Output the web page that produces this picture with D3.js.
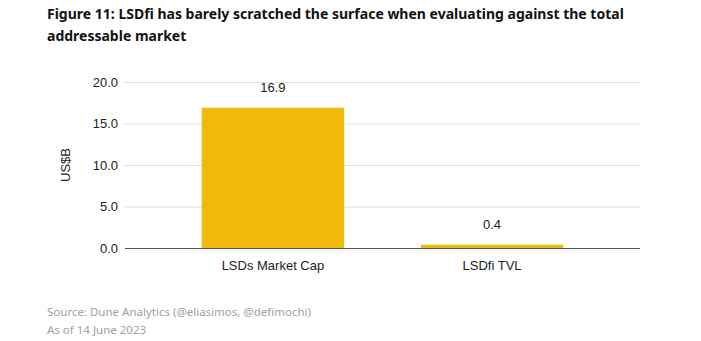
<!DOCTYPE html>
<html>
<head>
<meta charset="utf-8">
<script src="https://cdn.jsdelivr.net/npm/d3@7"></script>
<style>
  body { margin: 0; background: #fff; }
  svg text { font-family: "Liberation Sans", Arial, sans-serif; }
</style>
</head>
<body>
<div id="chart"></div>
<script>
var categories = ["LSDs Market Cap", "LSDfi TVL"];
var values = [16.9, 0.4];
var valueLabels = ["16.9", "0.4"];
var yTicks = [0, 5, 10, 15, 20];

var W = 701, H = 341;
var svg = d3.select("#chart").append("svg")
  .attr("width", W).attr("height", H);

// title
var title = svg.append("text")
  .style("font-family", "'Noto Sans', sans-serif")
  .style("font-weight", "bold")
  .style("font-size", "14px")
  .attr("fill", "#111");
title.append("tspan").attr("x", 47).attr("y", 19)
  .text("Figure 11: LSDfi has barely scratched the surface when evaluating against the total");
title.append("tspan").attr("x", 47).attr("y", 41)
  .text("addressable market");

var x = d3.scaleBand()
  .domain(categories)
  .range([125, 640])
  .paddingInner(0.35)
  .paddingOuter(0.35);

var y = d3.scaleLinear()
  .domain([0, 20])
  .range([248, 82]);

// gridlines
svg.append("g")
  .selectAll("line")
  .data(yTicks.filter(d => d > 0))
  .enter().append("line")
  .attr("x1", 125).attr("x2", 640)
  .attr("y1", d => y(d) + 0.5).attr("y2", d => y(d) + 0.5)
  .attr("stroke", "#e0e0e0")
  .attr("stroke-width", 1);

// y tick labels
svg.append("g")
  .selectAll("text")
  .data(yTicks)
  .enter().append("text")
  .attr("x", 118)
  .attr("y", d => y(d))
  .attr("dy", "0.35em")
  .attr("text-anchor", "end")
  .style("font-size", "13px")
  .attr("fill", "#222")
  .text(d => d3.format(".1f")(d));

// y axis title
svg.append("text")
  .attr("transform", "translate(70,165) rotate(-90)")
  .attr("text-anchor", "middle")
  .style("font-size", "13px")
  .attr("fill", "#222")
  .text("US$B");

// bars
svg.append("g")
  .selectAll("rect")
  .data(values)
  .enter().append("rect")
  .attr("x", (d, i) => x(categories[i]))
  .attr("width", x.bandwidth())
  .attr("y", d => y(d))
  .attr("height", d => y(0) - y(d))
  .attr("fill", "#F0B90B");

// baseline
svg.append("line")
  .attr("x1", 125).attr("x2", 640)
  .attr("y1", y(0) + 0.5).attr("y2", y(0) + 0.5)
  .attr("stroke", "#555")
  .attr("stroke-width", 1);

// value labels
svg.append("g")
  .selectAll("text")
  .data(values)
  .enter().append("text")
  .attr("x", (d, i) => x(categories[i]) + x.bandwidth() / 2)
  .attr("y", d => y(d) - 16)
  .attr("text-anchor", "middle")
  .style("font-size", "13px")
  .attr("fill", "#222")
  .text((d, i) => valueLabels[i]);

// category labels
svg.append("g")
  .selectAll("text")
  .data(categories)
  .enter().append("text")
  .attr("x", d => x(d) + x.bandwidth() / 2)
  .attr("y", 270)
  .attr("text-anchor", "middle")
  .style("font-size", "13px")
  .attr("fill", "#222")
  .text(d => d);

// source
var src = svg.append("text")
  .style("font-family", "'Noto Sans', sans-serif")
  .style("font-size", "11.5px")
  .attr("fill", "#a0a0a0");
src.append("tspan").attr("x", 47).attr("y", 316)
  .text("Source: Dune Analytics (@eliasimos, @defimochi)");
src.append("tspan").attr("x", 47).attr("y", 334)
  .text("As of 14 June 2023");
</script>
</body>
</html>
